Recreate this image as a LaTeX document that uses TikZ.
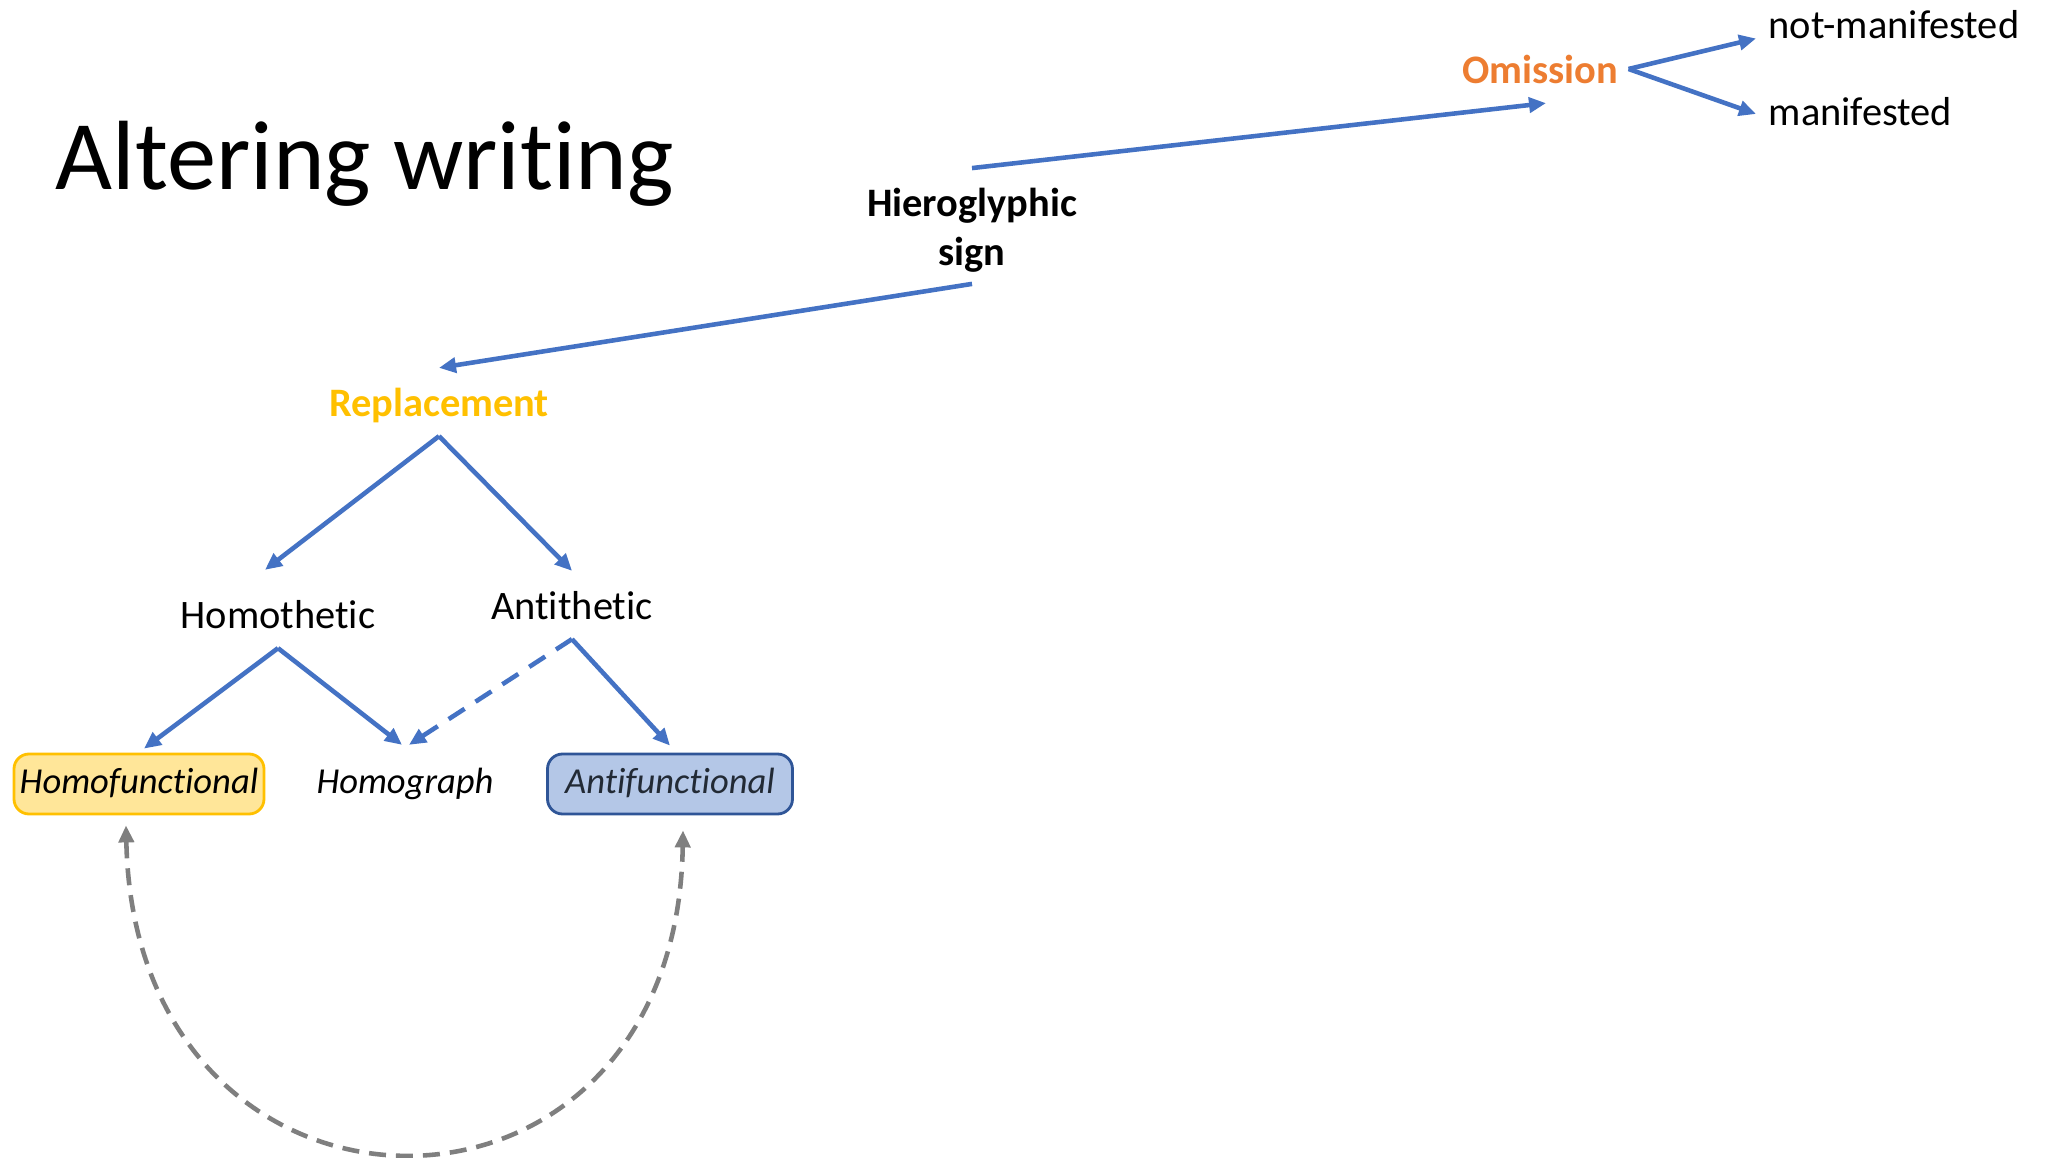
\documentclass[tikz,border=0pt]{standalone}
\usepackage{fontspec}
\setmainfont{Carlito}[Ligatures=NoCommon]
\usetikzlibrary{arrows.meta}
\definecolor{linkcol}{RGB}{68,114,196}
\definecolor{omitcol}{RGB}{237,125,49}
\definecolor{replcol}{RGB}{255,192,0}
\definecolor{homfill}{RGB}{255,230,153}
\definecolor{homedge}{RGB}{255,192,0}
\definecolor{antfill}{RGB}{180,199,231}
\definecolor{antedge}{RGB}{47,85,151}
\definecolor{anttext}{RGB}{34,42,53}
\definecolor{swapgray}{RGB}{127,127,127}

\begin{document}
\begin{tikzpicture}[
  every node/.style={font=\fontsize{11.5}{14}\selectfont},
  %% Node styles
  term/.style={
    inner sep=1.5mm, text height=9.3pt, text depth=1.2pt,
  },
  keyterm/.style={
    term, font=\fontsize{11.5}{14}\selectfont\bfseries,
  },
  headterm/.style={
    inner sep=1.5mm, align=center,
    font=\fontsize{11.5}{14}\selectfont\bfseries,
  },
  itterm/.style={
    term, font=\fontsize{10.4}{13}\selectfont\itshape,
  },
  funcbox/.style={
    rounded corners=1.5mm, line width=0.8pt, inner sep=0pt,
    minimum width=2.5cm, minimum height=0.6cm,
    text height=8pt, text depth=2.5pt,
    font=\fontsize{10.4}{13}\selectfont\itshape,
  },
  %% Edge styles
  tedge/.style={draw=linkcol, line width=1.3pt,
    -{Triangle[length=1.7mm,width=1.5mm]}},
  dedge/.style={tedge, dash pattern=on 1.9mm off 1.3mm},
  sedge/.style={draw=swapgray, line width=1.3pt,
    dash pattern=on 1.7mm off 1mm,
    {Triangle[length=1.7mm,width=1.5mm]}-{Triangle[length=1.7mm,width=1.5mm]}},
]
\useasboundingbox[fill=white] (0,0) rectangle (20.49,11.57);

%% =============================================================
%%  Title
%% =============================================================
\node[anchor=base west, inner sep=0pt, font=\fontsize{28}{34}\selectfont]
    (title) at (0.55, 9.67) {Altering writing};

%% =============================================================
%%  Top: sign -> omission
%% =============================================================
\node[headterm] (hier) at (9.72, 9.27) {Hieroglyphic\\sign};
\node[keyterm, text=omitcol] (omis) at (15.40, 10.88) {Omission};
\node[term, anchor=west] (notman) at (17.53, 11.33) {not-manifested};
\node[term, anchor=west] (man)    at (17.53, 10.46) {manifested};

\draw[tedge] ([yshift=0.4mm]hier.north) -- ([xshift=0.6mm]omis.south);
\draw[tedge] ([xshift=-0.5mm]omis.east)
    -- ([xshift=0.3mm,yshift=-1.45mm]notman.west);
\draw[tedge] ([xshift=-0.5mm]omis.east)
    -- ([xshift=0.3mm,yshift=-0.3mm]man.west);

%% =============================================================
%%  Left: replacement tree
%% =============================================================
\node[keyterm, text=replcol] (rep) at (4.39, 7.55) {Replacement};
\node[term] (hom)  at (2.78, 5.43) {Homothetic};
\node[term] (anti) at (5.72, 5.52) {Antithetic};

\node[funcbox, draw=homedge, fill=homfill] (homf) at (1.39, 3.73)
    {Homofunctional};
\node[itterm] (homg) at (4.05, 3.78) {Homograph};
\node[funcbox, draw=antedge, fill=antfill, text=anttext,
    minimum width=2.45cm] (antf) at (6.70, 3.73) {Antifunctional};

\draw[tedge] ([yshift=0.4mm]hier.south) -- (rep.north);
\draw[tedge] (rep.south) -- ([xshift=-1.3mm,yshift=1mm]hom.north);
\draw[tedge] (rep.south) -- (anti.north);

\draw[tedge] (hom.south) -- ([xshift=0.5mm,yshift=0.4mm]homf.north);
\draw[tedge] (hom.south) -- ([xshift=-0.3mm]homg.north);
\draw[dedge] (anti.south) -- ([xshift=0.4mm]homg.north);
\draw[tedge] (anti.south) -- ([yshift=0.7mm]antf.north);

%% Swap between the two functional classes
\draw[sedge] ([xshift=-1.3mm,yshift=-1mm]homf.south)
    .. controls +(0.09,-4.32) and +(-0.07,-4.32) ..
    ([xshift=1.3mm,yshift=-1.5mm]antf.south);

\end{tikzpicture}
\end{document}
